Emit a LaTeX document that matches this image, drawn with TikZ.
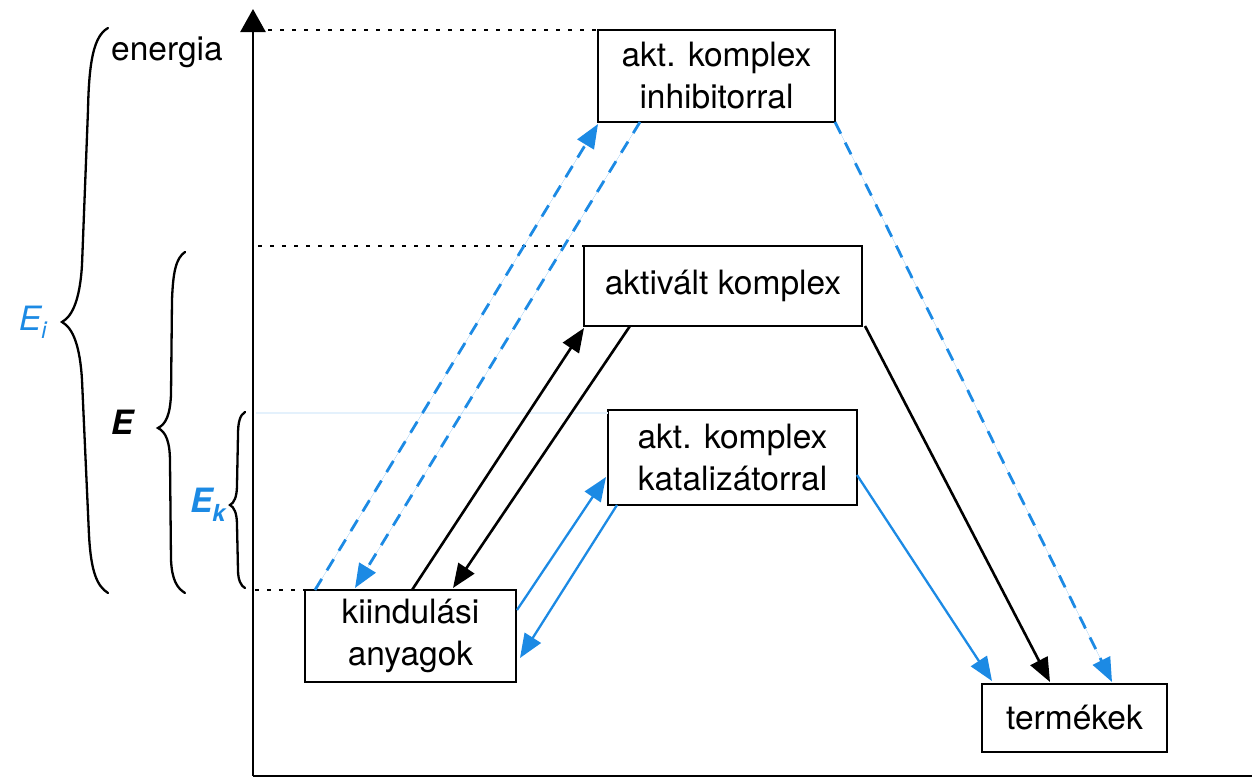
\documentclass[tikz,border=0pt]{standalone}
\usepackage{fontspec}
\setmainfont{TeX Gyre Heros}
\usetikzlibrary{arrows.meta,calc}
\definecolor{myblue}{RGB}{28,138,228}
\begin{document}
\begin{tikzpicture}[x=1pt,y=-1pt,
  box/.style={draw,line width=2.8pt,inner sep=0pt,outer sep=0pt,align=center,fill=white,font=\fontsize{33.5}{42}\selectfont},
  lbl/.style={font=\fontsize{33.5}{42}\selectfont,inner sep=0pt},
  tipa/.style={-{Triangle[length=24pt,width=19pt]}},
  blk/.style={tipa,line width=2.6pt,draw=black},
  bsol/.style={tipa,line width=2.3pt,draw=myblue,fill=myblue},
  bdash/.style={tipa,line width=2.8pt,draw=myblue,fill=myblue,dash pattern=on 13pt off 10pt},
  lvl/.style={line width=2.8pt,dash pattern=on 4pt off 8pt},
  brc/.style={line width=2.3pt,line cap=round}]
\useasboundingbox (0,0) rectangle (1252,779);

% axes
\coordinate (o) at (253,776);
\coordinate (ytop) at (253,9);
\coordinate (xend) at (1252,776);
\draw[line width=2.6pt,-{Triangle[length=23pt,width=25pt]}] (o) -- (ytop);
\draw[line width=2.6pt] (o) -- (xend);

% boxes
\node[box,minimum width=237pt,minimum height=92pt] (inh) at (716.5,76) {akt. komplex\\inhibitorral};
\node[box,minimum width=278pt,minimum height=80pt] (akt) at (723,286) {aktivált komplex};
\node[box,minimum width=249pt,minimum height=95pt] (kat) at (732.5,457.5) {akt. komplex\\katalizátorral};
\node[box,minimum width=211pt,minimum height=92pt] (kiind) at (410.5,636) {kiindulási\\anyagok};
\node[box,minimum width=185pt,minimum height=68pt] (term) at (1074.5,718) {termékek};

% level lines
\coordinate (l1) at (268,30);
\coordinate (l2) at (258,246);
\coordinate (l3) at (255,590);
\coordinate (l4) at (256,413);
\draw[lvl] (l1 |- inh.north west) -- (inh.north west);
\draw[lvl] (l2 |- akt.north west) -- (akt.north west);
\draw[lvl] (l3 |- kiind.north west) -- (kiind.north west);
\draw[myblue!12,line width=2pt] (l4) -- ($(kat.north west)+(0,3)$);

% inhibitor path (dashed blue)
\draw[bdash] ($(kiind.north west)+(10,0)$) -- ($(inh.south west)+(0,2)$);
\draw[bdash] ($(inh.south west)+(42,0)$) -- ($(kiind.north west)+(50,-2)$);
\draw[bdash] (inh.south east) -- ($(term.north west)+(130,-2)$);

% uncatalysed path (black)
\draw[blk] ($(kiind.north west)+(107,0)$) -- ($(akt.south west)+(0,2)$);
\draw[blk] ($(akt.south west)+(46,0)$) -- ($(kiind.north west)+(148,-2)$);
\draw[blk] ($(akt.south east)+(3,0)$) -- ($(term.north west)+(68,-2)$);

% catalysed path (solid blue)
\draw[bsol] ($(kiind.north east)+(1,20)$) -- ($(kat.south west)+(-2,-28)$);
\draw[bsol] ($(kat.south west)+(9,0)$) -- ($(kiind.north east)+(4,68)$);
\draw[bsol] ($(kat.north east)+(0,65)$) -- ($(term.north west)+(10,-3)$);

% braces
\draw[brc] (108,28) .. controls (94,36) and (89,60) .. (88,110) -- (82,265) .. controls (80,298) and (73,316) .. (62,322) .. controls (73,328) and (80,346) .. (82,380) -- (89,535) .. controls (91,572) and (97,586) .. (108,593);
\draw[brc] (185,252) .. controls (176,258) and (173,272) .. (172,300) -- (171,395) .. controls (170,415) and (166,424) .. (158,428) .. controls (166,432) and (170,442) .. (170,462) -- (171,560) .. controls (172,580) and (177,588) .. (185,593);
\draw[brc] (245,412) .. controls (240,415) and (238,422) .. (238,435) -- (237,485) .. controls (237,497) and (234,503) .. (230,505) .. controls (234,507) and (237,513) .. (237,525) -- (238,570) .. controls (238,580) and (241,586) .. (245,588);

% labels
\node[lbl] (en) at (167,52) {energia};
\node[lbl,text=myblue] (ei) at (33,322) {\itshape E\textsubscript{\itshape i}};
\node[lbl] (e) at (122,422) {\bfseries\itshape E};
\node[lbl,text=myblue] (ek) at (208,505) {\bfseries\itshape E\textsubscript{\bfseries\itshape k}};
\end{tikzpicture}
\end{document}
